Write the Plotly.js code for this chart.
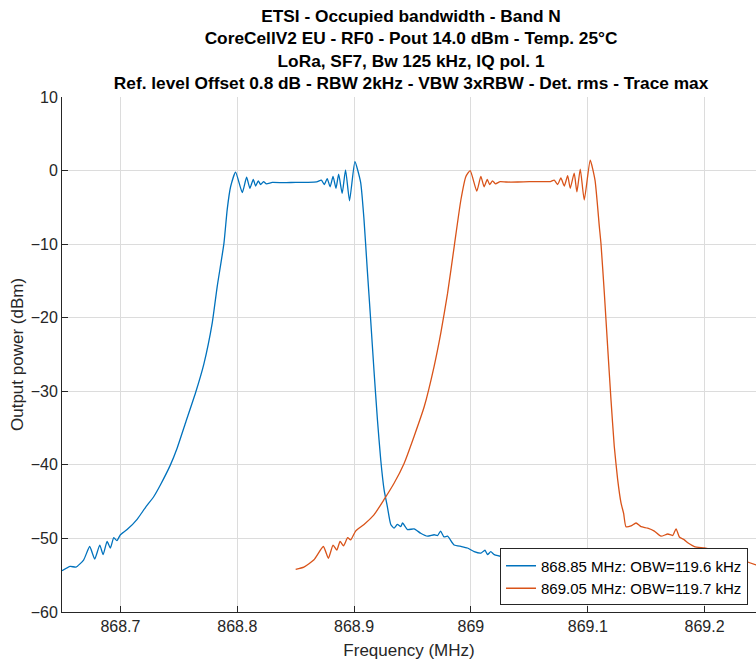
<!DOCTYPE html>
<html>
<head>
<meta charset="utf-8">
<script src="https://cdn.plot.ly/plotly-3.0.1.min.js"></script>
<style>html,body{margin:0;padding:0;background:#fff;}#chart{width:756px;height:663px;}</style>
</head>
<body>
<div id="chart"></div>
<script>
// Series 1: 868.85 MHz carrier
const freqBlue = [868.650,868.657,868.662,868.6686,868.6737,868.678,868.6823,868.6852,868.6886,868.6914,868.6943,868.697,868.700,868.7057,868.7143,868.7214,868.7286,868.7343,868.7428,868.7486,868.7557,868.7643,868.7714,868.7786,868.7828,868.7886,868.7914,868.7943,868.7986,868.8043,868.808,868.8108,868.8137,868.8157,868.818,868.820,868.8225,868.825,868.830,868.840,868.850,868.860,868.868,868.872,868.8745,868.877,868.8795,868.882,868.8845,868.8868,868.8898,868.8927,868.8961,868.9007,868.9056,868.9085,868.9113,868.9142,868.917,868.920,868.9228,868.9257,868.9285,868.9314,868.9342,868.937,868.940,868.9415,868.9457,868.9514,868.957,868.9628,868.9685,868.9715,868.974,868.977,868.980,868.9857,868.992,868.997,869.0028,869.0085,869.012,869.0142,869.017,869.020,869.030,869.040,869.050];
const powBlue  = [-54.4,-53.8,-53.9,-52.9,-51.1,-52.8,-50.9,-52.2,-50.4,-51.3,-49.9,-50.3,-49.5,-48.8,-47.4,-45.8,-44.3,-42.7,-40.0,-37.7,-34.3,-30.2,-26.3,-20.7,-15.8,-9.9,-5.3,-2.2,-0.2,-3.0,-0.9,-2.4,-1.2,-2.1,-1.4,-1.9,-1.5,-1.8,-1.6,-1.65,-1.6,-1.6,-1.55,-1.3,-1.9,-1.1,-2.2,-0.8,-2.4,-0.5,-3.1,0.1,-4.1,1.2,-1.6,-6.7,-13.5,-20.3,-27.1,-33.9,-39.3,-43.4,-45.7,-48.1,-48.6,-48.1,-48.4,-47.9,-48.8,-48.7,-49.3,-49.7,-49.5,-49.6,-49.0,-49.8,-49.7,-50.9,-51.1,-51.3,-51.8,-52.0,-51.6,-52.2,-51.8,-52.2,-52.6,-52.9,-53.2];

// Series 2: 869.05 MHz carrier
const freqRed = [868.850,868.857,868.8657,868.8737,868.878,868.882,868.8852,868.888,868.891,868.8945,868.897,868.9013,868.9085,868.917,868.9257,868.9342,868.9428,868.9514,868.960,868.9685,868.9742,868.980,868.9857,868.9914,868.9957,868.9994,869.005,869.0085,869.0113,869.014,869.016,869.0185,869.021,869.025,869.030,869.040,869.050,869.060,869.068,869.0713,869.0742,869.077,869.0799,869.0828,869.085,869.0884,869.0907,869.0936,869.097,869.1021,869.1062,869.1099,869.1113,869.1142,869.117,869.1199,869.1227,869.1256,869.1285,869.1307,869.1327,869.137,869.1413,869.1456,869.1513,869.157,869.1627,869.1685,869.1727,869.1756,869.1784,869.1827,869.1856,869.1913,869.1998,869.2084,869.2141,869.2199,869.2242,869.231,869.244,869.250];
const powRed  = [-54.2,-53.9,-52.9,-51.1,-52.7,-50.9,-51.6,-50.4,-51.0,-49.9,-50.2,-49.0,-48.1,-46.8,-44.7,-42.5,-39.8,-36.1,-32.1,-26.6,-22.1,-16.7,-10.3,-4.0,-0.8,0.0,-2.8,-0.8,-2.2,-1.2,-1.9,-1.4,-1.8,-1.5,-1.55,-1.55,-1.5,-1.5,-1.5,-1.3,-1.9,-1.0,-2.1,-0.7,-2.4,-0.35,-2.9,0.2,-4.0,1.4,-1.3,-7.6,-9.9,-16.7,-23.9,-31.2,-37.5,-42.0,-45.2,-46.6,-48.4,-48.3,-47.9,-48.4,-48.6,-49.0,-49.7,-49.4,-49.6,-48.7,-49.8,-50.2,-50.6,-51.1,-51.3,-51.6,-52.0,-51.5,-52.2,-52.8,-53.6,-53.8];

const seriesNames = ["868.85 MHz: OBW=119.6 kHz", "869.05 MHz: OBW=119.7 kHz"];
const xTickVals = [868.7, 868.8, 868.9, 869.0, 869.1, 869.2];
const xTickText = ["868.7", "868.8", "868.9", "869", "869.1", "869.2"];
const yTickVals = [-60, -50, -40, -30, -20, -10, 0, 10];
const titleLines = [
  "ETSI - Occupied bandwidth - Band N",
  "CoreCellV2 EU - RF0 - Pout 14.0 dBm - Temp. 25°C",
  "LoRa, SF7, Bw 125 kHz, IQ pol. 1",
  "Ref. level Offset 0.8 dB - RBW 2kHz - VBW 3xRBW - Det. rms - Trace max"
];

const FONT = "Liberation Sans, Arial, Helvetica, sans-serif";
const AX = "#262626";

const traces = [
  {x: freqBlue, y: powBlue, type: "scatter", mode: "lines", name: seriesNames[0],
   line: {color: "#0072BD", width: 1.3, shape: "spline", smoothing: 0.5}},
  {x: freqRed, y: powRed, type: "scatter", mode: "lines", name: seriesNames[1],
   line: {color: "#D95319", width: 1.3, shape: "spline", smoothing: 0.5}}
];

const layout = {
  width: 756, height: 663,
  margin: {l: 62, r: 0, t: 97, b: 51},
  paper_bgcolor: "#fff", plot_bgcolor: "#fff",
  font: {family: FONT, color: AX, size: 16},
  title: {
    text: "<b>" + titleLines.join("<br>") + "</b>",
    font: {family: FONT, size: 17.3, color: "#000"},
    xref: "container", x: 0.5437, xanchor: "center",
    yref: "container", y: 0.967, yanchor: "top"
  },
  xaxis: {
    range: [868.65, 869.244],
    tickvals: xTickVals, ticktext: xTickText,
    ticks: "inside", ticklen: 6, tickcolor: AX,
    showline: true, linecolor: AX, linewidth: 1,
    showgrid: true, gridcolor: "#dcdcdc", gridwidth: 1,
    zeroline: false,
    tickfont: {size: 16, color: AX},
    title: {text: "Frequency (MHz)", font: {size: 17, color: AX}, standoff: 9}
  },
  yaxis: {
    range: [-60, 10],
    tickvals: yTickVals,
    ticks: "inside", ticklen: 6, tickcolor: AX,
    showline: true, linecolor: AX, linewidth: 1,
    showgrid: true, gridcolor: "#dcdcdc", gridwidth: 1,
    zeroline: false,
    tickfont: {size: 16, color: AX},
    title: {text: "Output power (dBm)", font: {size: 17, color: AX}, standoff: 2}
  },
  showlegend: true,
  legend: {
    x: 0.9885, xanchor: "right", y: 0.068, yanchor: "middle",
    bgcolor: "#fff", bordercolor: "#262626", borderwidth: 1,
    font: {size: 15, color: "#000"},
    tracegroupgap: 0
  }
};

Plotly.newPlot("chart", traces, layout, {displayModeBar: false, staticPlot: true});
</script>
</body>
</html>
